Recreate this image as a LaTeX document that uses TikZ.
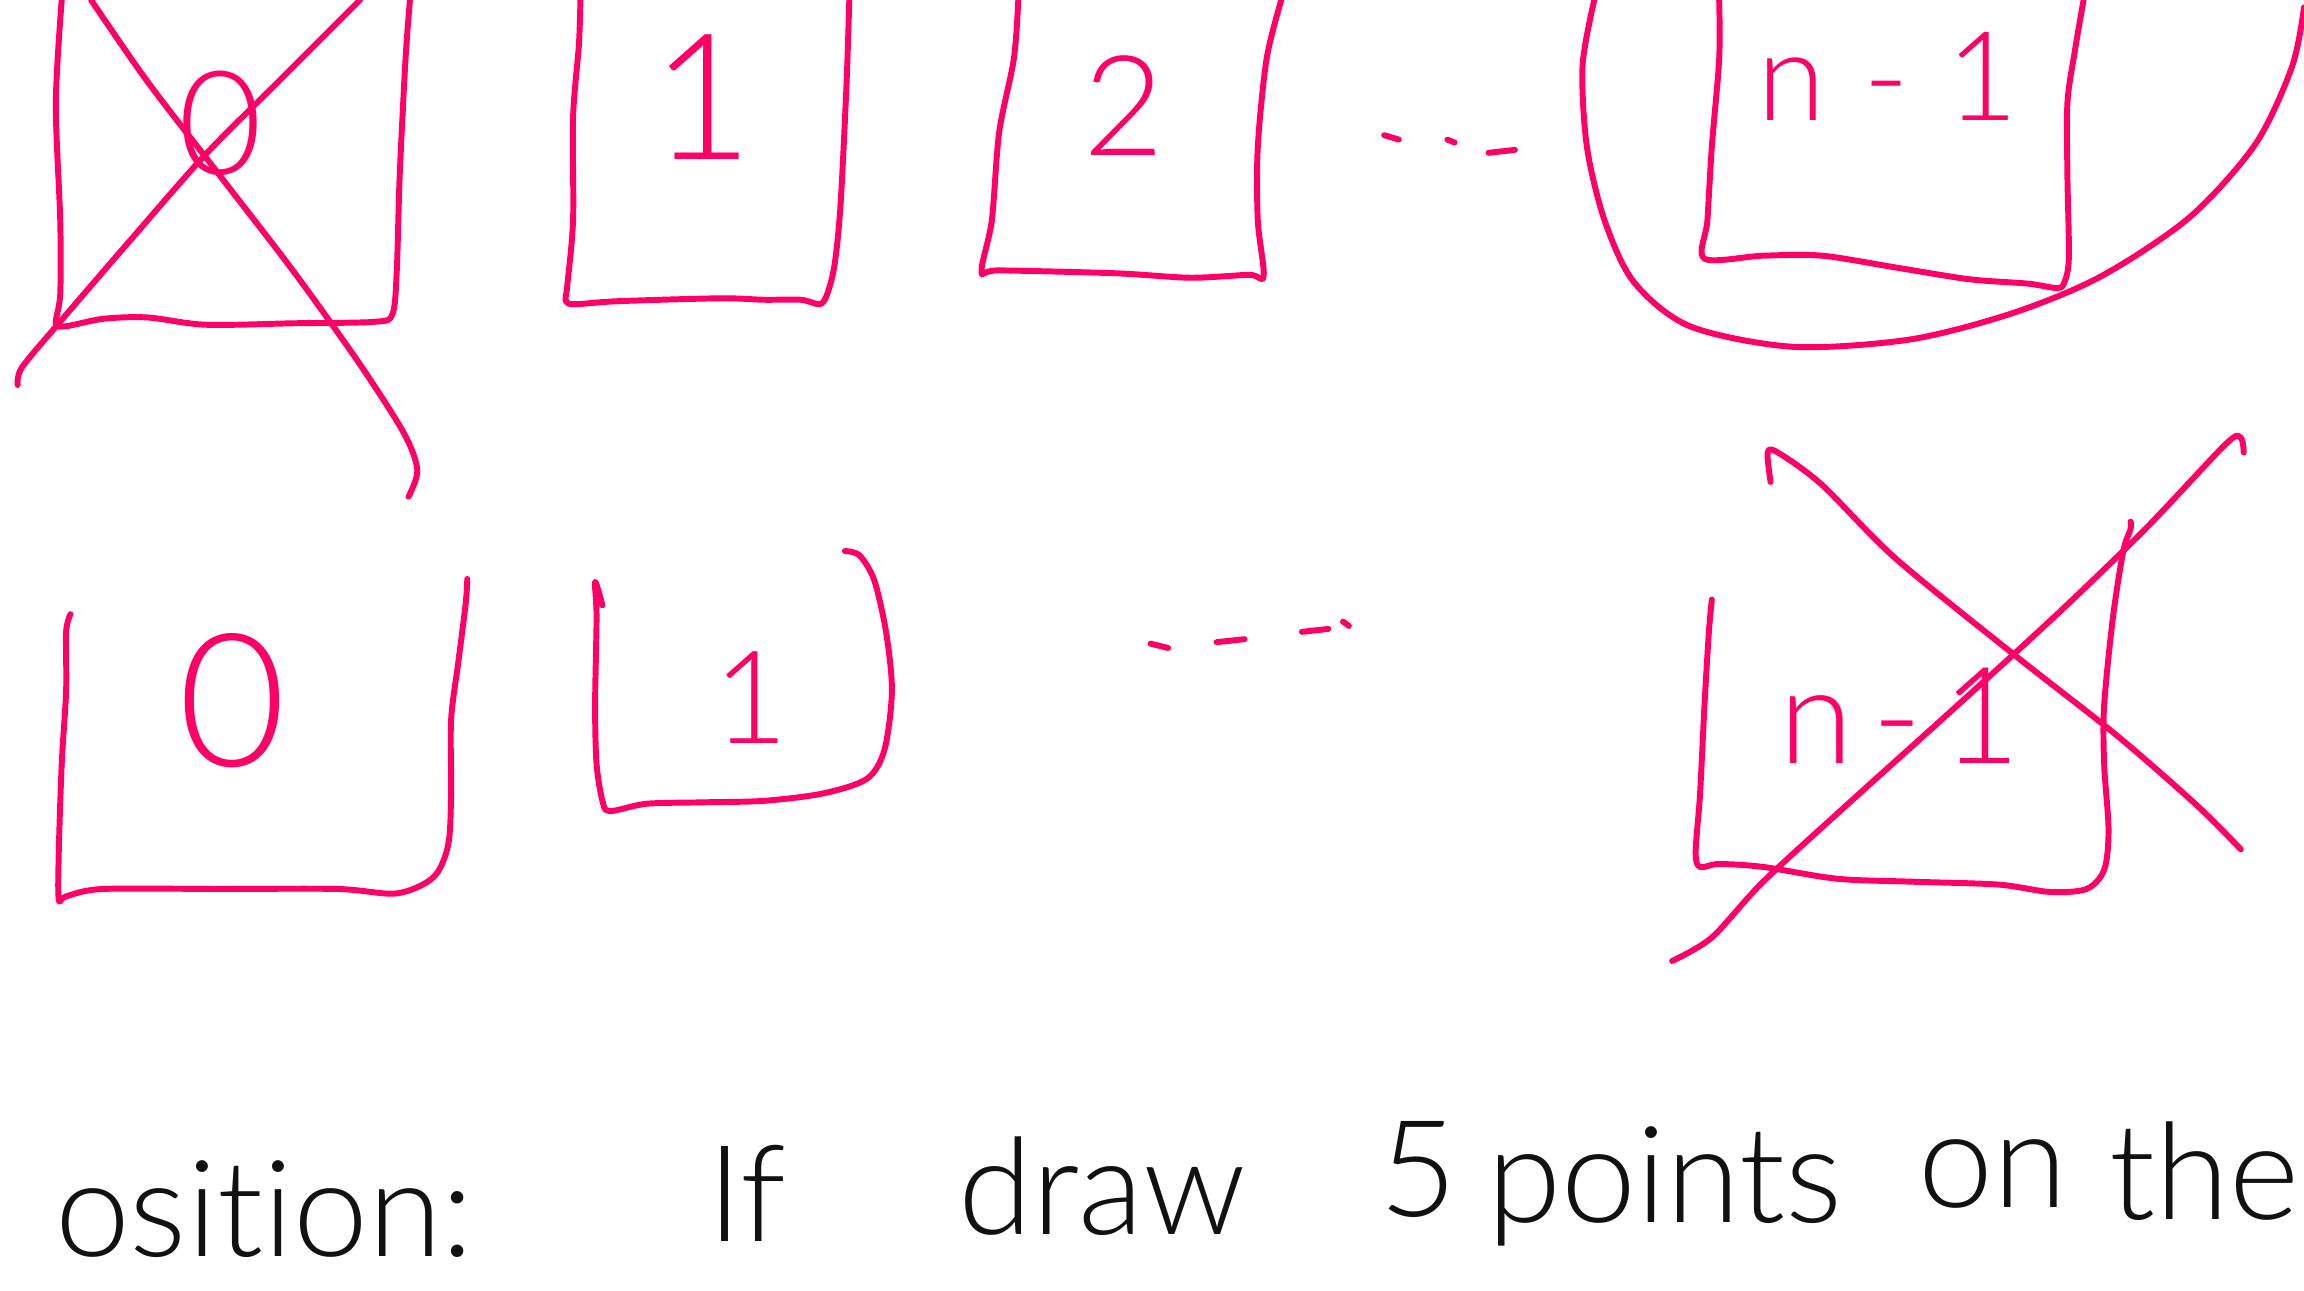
\documentclass[tikz,border=0pt]{standalone}
\usepackage{fontspec}
\setmainfont{Liberation Sans}
\newfontfamily\handfont{Lato Light}[Ligatures={NoCommon}]
\usetikzlibrary{positioning}
\definecolor{pen}{HTML}{FF0066}
\definecolor{ink}{HTML}{111111}
\tikzset{stroke/.style={pen,line width=1.15pt,line cap=round,line join=round},scrawl/.style={text=pen,inner sep=0pt,font=\handfont\fontsize{#1}{#1}\selectfont},words/.style={text=ink,inner sep=0pt,anchor=base,font=\handfont\fontsize{26}{30}\selectfont}}
\begin{document}
\begin{tikzpicture}[x=0.01cm,y=-0.01cm]
\useasboundingbox (0,0) rectangle (1568,878);
% top row
\draw[stroke] plot[smooth,tension=0.5] coordinates {(42,0) (38,70) (41,150) (41,200) (38,220) (45,222) (70,217) (100,216) (140,221) (200,220) (255,219) (267,214) (270,185) (272,120) (276,40) (279,0)};
\draw[stroke] plot[smooth] coordinates {(62,0) (100,55) (150,120) (200,185) (245,248) (275,295) (284,320) (278,338)};
\draw[stroke] plot[smooth] coordinates {(245,0) (190,55) (140,105) (90,162) (40,220) (15,250) (12,262)};
\node[scrawl=28] (zeroA) at (150,84) {0};
\draw[stroke] plot[smooth,tension=0.5] coordinates {(395,0) (394,30) (390,80) (390,150) (386,195) (385,205) (392,207) (420,205) (490,203) (520,204) (545,204) (558,207) (563,200) (568,180) (572,140) (576,60) (578,0)};
\node[scrawl=34] (oneA) at (478,66) {1};
\draw[stroke] plot[smooth,tension=0.5] coordinates {(693,0) (690,40) (680,90) (675,150) (668,185) (680,184) (760,186) (810,189) (850,187) (860,188) (856,150) (856,100) (862,40) (872,0)};
\node[scrawl=27] (twoA) at (765,72) {2};
\draw[stroke] (942,92) -- (952,95);
\draw[stroke] (985,95) -- (990,97);
\draw[stroke] (1013,104) -- (1031,102);
\draw[stroke] plot[smooth,tension=0.5] coordinates {(1170,0) (1170,40) (1165,100) (1162,150) (1160,176) (1200,174) (1240,174) (1290,182) (1340,190) (1380,193) (1400,196) (1405,192) (1408,175) (1407,120) (1407,70) (1412,35) (1418,0)};
\node[scrawl=24] (lastA) at (1285,52) {n\hspace{0.3em}-\hspace{0.3em}1};
\draw[stroke] plot[smooth] coordinates {(1085,0) (1077,45) (1080,100) (1092,150) (1112,192) (1150,222) (1220,236) (1300,231) (1370,213) (1430,188) (1490,148) (1535,98) (1560,45) (1568,5)};
% bottom row
\draw[stroke] plot[smooth,tension=0.5] coordinates {(48,418) (45,430) (45,470) (42,520) (40,580) (40,612) (45,610) (70,605) (150,605) (230,605) (270,608) (295,597) (305,575) (307,540) (307,490) (312,450) (317,410) (318,394)};
\node[scrawl=36] (zeroB) at (158,477) {0};
\draw[stroke] plot[smooth,tension=0.5] coordinates {(410,412) (405,396) (406,420) (405,480) (406,520) (410,545) (415,552) (440,547) (480,546) (520,545) (560,540) (590,530) (602,510) (607,470) (603,430) (595,395) (585,378) (575,375)};
\node[scrawl=25] (oneB) at (511,475) {1};
\draw[stroke] (783,438) -- (795,441);
\draw[stroke] (828,437) -- (847,435);
\draw[stroke] (886,430) -- (904,428);
\draw[stroke] (914,423) -- (918,426);
\draw[stroke] plot[smooth,tension=0.5] coordinates {(1165,408) (1163,430) (1160,480) (1157,540) (1154,580) (1157,590) (1170,588) (1200,590) (1250,598) (1300,600) (1360,602) (1395,607) (1420,605) (1432,592) (1435,565) (1432,520) (1432,480) (1438,420) (1445,375) (1450,360) (1450,355)};
\node[scrawl=26] (lastB) at (1293,487) {n\hspace{0.15em}-\hspace{0.15em}1};
\draw[stroke] plot[smooth] coordinates {(1205,328) (1203,308) (1210,308) (1240,330) (1290,380) (1370,445) (1440,500) (1495,548) (1525,578)};
\draw[stroke] plot[smooth] coordinates {(1138,654) (1165,638) (1200,600) (1260,545) (1330,482) (1400,418) (1460,360) (1515,302) (1525,298) (1527,308)};
% text line
\node[words] (w1) at (180,855) {osition:};
\node[words] (w2) at (508,845) {If};
\node[words] (w3) at (750,840) {draw};
\node[words] (w4) at (965,828) {5};
\node[words] (w5) at (1133,832) {points};
\node[words] (w6) at (1356,822) {on};
\node[words] (w7) at (1500,830) {the};
\end{tikzpicture}
\end{document}
